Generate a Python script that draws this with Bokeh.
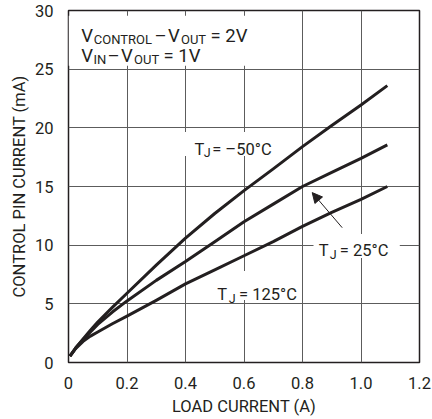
from bokeh.plotting import figure
from bokeh.models import FixedTicker, Label, BoxAnnotation, Arrow, NormalHead, Range1d
from bokeh.embed import file_html
from bokeh.resources import INLINE

# ---- data ----
load_current = [0.005, 0.025, 0.05, 0.075, 0.1, 0.15, 0.2, 0.3, 0.4, 0.5, 0.6, 0.7, 0.8, 0.9, 1.0, 1.09]
i_tj_minus50 = [0.55, 1.25, 2.0, 2.75, 3.45, 4.7, 5.9, 8.3, 10.6, 12.7, 14.65, 16.5, 18.4, 20.2, 21.95, 23.6]
i_tj_25 = [0.55, 1.25, 1.95, 2.6, 3.25, 4.3, 5.25, 7.0, 8.6, 10.3, 12.0, 13.5, 15.0, 16.2, 17.4, 18.55]
i_tj_125 = [0.55, 1.2, 1.8, 2.25, 2.6, 3.3, 3.95, 5.3, 6.7, 7.9, 9.1, 10.3, 11.6, 12.8, 13.9, 15.0]

x_ticks = [0, 0.2, 0.4, 0.6, 0.8, 1.0, 1.2]
x_tick_labels = ["0", "0.2", "0.4", "0.6", "0.8", "1.0", "1.2"]
y_ticks = [0, 5, 10, 15, 20, 25, 30]

INK = "#231f20"
FONT = "Roboto"

p = figure(width=432, height=419, output_backend="svg", toolbar_location=None,
           x_range=Range1d(0, 1.2), y_range=Range1d(0, 30),
           min_border_left=68, min_border_right=13, min_border_top=10, min_border_bottom=57)

p.xaxis.ticker = FixedTicker(ticks=x_ticks)
p.yaxis.ticker = FixedTicker(ticks=y_ticks)
p.xaxis.major_label_overrides = {t: s for t, s in zip(x_ticks, x_tick_labels)}

p.xaxis.axis_label = "LOAD CURRENT (A)"
p.yaxis.axis_label = "CONTROL PIN CURRENT (mA)"
for ax in p.axis:
    ax.axis_line_color = None
    ax.major_tick_line_color = None
    ax.minor_tick_line_color = None
    ax.major_label_text_font = FONT
    ax.major_label_text_font_size = "16.5px"
    ax.major_label_text_color = INK
    ax.axis_label_text_font = FONT
    ax.axis_label_text_font_size = "16.5px"
    ax.axis_label_text_font_style = "normal"
    ax.axis_label_text_color = INK
p.xaxis.major_label_standoff = 8
p.xaxis.axis_label_standoff = 5
p.yaxis.major_label_standoff = 9
p.yaxis.axis_label_standoff = 3

p.grid.grid_line_color = "#5c5c5c"
p.grid.grid_line_width = 1
p.outline_line_color = INK
p.outline_line_width = 1.5
p.outline_line_alpha = 1

# white boxes behind labels (hide grid)
for l, r, b, t in [(0.0, 0.64, 25.3, 29.55), (0.383, 0.725, 17.6, 19.64),
                   (0.8376, 1.1326, 8.91, 10.95), (0.485, 0.793, 5.33, 7.8)]:
    p.add_layout(BoxAnnotation(left=l, right=r, bottom=b, top=t, fill_color="white",
                               fill_alpha=1, line_color=None, level="underlay"))

for ys in (i_tj_minus50, i_tj_25, i_tj_125):
    p.line(load_current, ys, line_color=INK, line_width=3, line_join="round")


def seg(x, y, txt, size):
    p.add_layout(Label(x=x, y=y, text=txt, text_font=FONT, text_font_size=f"{size}px",
                       text_baseline="alphabetic", text_color=INK))

# header
seg(0.0434, 27.835, "V", 18.5)
seg(0.0865, 27.536, "CONTROL", 13)
seg(0.2940, 27.835, "–", 18.5)
seg(0.3400, 27.835, "V", 18.5)
seg(0.3845, 27.536, "OUT", 13)
seg(0.4855, 27.835, "= 2V", 18.5)
seg(0.0434, 26.13, "V", 18.5)
seg(0.0855, 25.83, "IN", 13)
seg(0.1335, 26.13, "–", 18.5)
seg(0.1795, 26.13, "V", 18.5)
seg(0.2240, 25.83, "OUT", 13)
seg(0.3248, 26.13, "= 1V", 18.5)

# curve labels
seg(0.4308, 18.176, "T", 16.5)
seg(0.4622, 17.90, "J", 12.5)
seg(0.4913, 18.176, "= –50°C", 16.5)

seg(0.8557, 9.506, "T", 16.5)
seg(0.8933, 9.22, "J", 12.5)
seg(0.9275, 9.506, "= 25°C", 16.5)

seg(0.5084, 5.754, "T", 16.5)
seg(0.548, 5.47, "J", 12.5)
seg(0.5829, 5.754, "= 125°C", 16.5)

p.add_layout(Arrow(end=NormalHead(size=10, fill_color=INK, line_color=INK),
                   x_start=0.9357, y_start=11.49, x_end=0.8332, y_end=14.48,
                   line_width=1, line_color=INK))

open("out.html", "w").write(file_html(p, INLINE))
